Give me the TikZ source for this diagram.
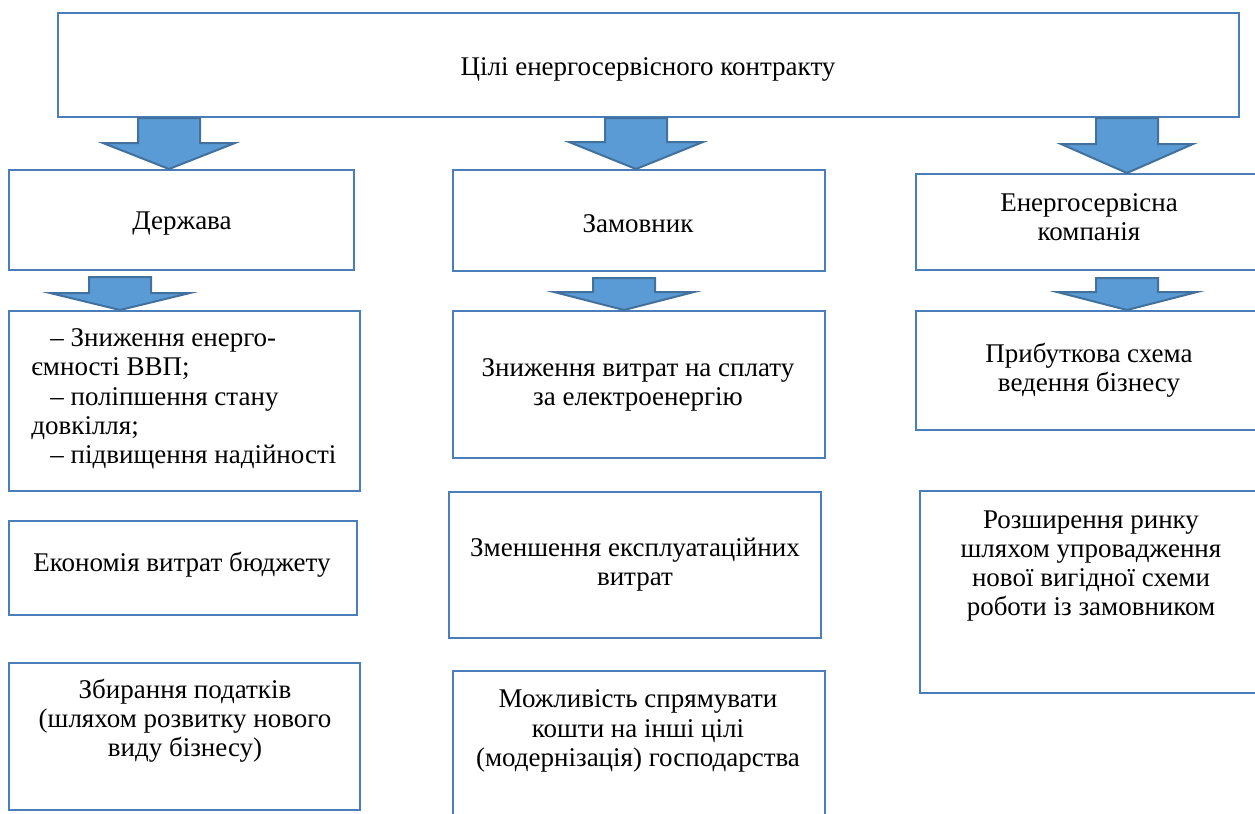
\documentclass[tikz,border=0pt]{standalone}
\usepackage{fontspec}
\setmainfont{Liberation Serif}
\usetikzlibrary{calc,fit}

\definecolor{boxline}{HTML}{4A7EBB}
\definecolor{arrline}{HTML}{41719C}
\definecolor{arrfill}{HTML}{5B9BD5}

\tikzset{
	box/.style={draw=boxline, line width=1pt, rectangle, inner sep=0pt},
	txt/.style={align=center, inner sep=0pt, font=\fontsize{13.5}{14.6}\selectfont},
	blockarr/.style={draw=arrline, fill=arrfill, line width=1pt, line join=miter}
}

% x, from, to, gap, head length, head half width
\newcommand{\blockarrow}[6]{%
	\draw[blockarr] ($(#1,0 |- #2.south)+(-31,#4)$) -- ($(#1,0 |- #2.south)+(31,#4)$)
		-- ($(#1,0 |- #3.north)+(31,-#5)$) -- ($(#1,0 |- #3.north)+(#6,-#5)$)
		-- (#1,0 |- #3.north) -- ($(#1,0 |- #3.north)+(-#6,-#5)$)
		-- ($(#1,0 |- #3.north)+(-31,-#5)$) -- cycle;}

\begin{document}
\begin{tikzpicture}[x=0.5pt, y=-0.5pt]
\useasboundingbox (0,0) rectangle (1255,814);

%Top
\node[box, fit={(58,13) (1239,117)}] (goal) {};

%Column 1
\node[box, fit={(9,170) (354,270)}] (state) {};
\node[box, fit={(9,311) (360,491)}] (state1) {};
\node[box, fit={(9,521) (357,615)}] (state2) {};
\node[box, fit={(9,663) (360,810)}] (state3) {};

%Column 2
\node[box, fit={(453,170) (825,271)}] (client) {};
\node[box, fit={(453,311) (825,458)}] (client1) {};
\node[box, fit={(449,492) (821,638)}] (client2) {};
\node[box, fit={(453,671) (825,840)}] (client3) {};

%Column 3
\node[box, fit={(916,174) (1262,270)}] (esco) {};
\node[box, fit={(916,311) (1262,430)}] (esco1) {};
\node[box, fit={(920,491) (1262,693)}] (esco2) {};

%Texts
\node[txt] (goal-t) at (648,69) {Цілі енергосервісного контракту};

\node[txt] (state-t) at (182,224) {Держава};
\node[txt, align=left, anchor=west] (state1-t) at (31,399)
	{\hspace*{9.5pt}– Зниження енерго-\\ємності ВВП;\\\hspace*{9.5pt}– поліпшення стану\\довкілля;\\\hspace*{9.5pt}– підвищення надійності};
\node[txt] (state2-t) at (182,565) {Економія витрат бюджету};
\node[txt] (state3-t) at (185,721) {Збирання податків\\(шляхом розвитку нового\\виду бізнесу)};

\node[txt] (client-t) at (638,224) {Замовник};
\node[txt] (client1-t) at (638,385) {Зниження витрат на сплату\\за електроенергію};
\node[txt] (client2-t) at (635,565) {Зменшення експлуатаційних\\витрат};
\node[txt] (client3-t) at (638,731) {Можливість спрямувати\\кошти на інші цілі\\(модернізація) господарства};

\node[txt] (esco-t) at (1089,217) {Енергосервісна\\компанія};
\node[txt] (esco1-t) at (1089,370) {Прибуткова схема\\ведення бізнесу};
\node[txt] (esco2-t) at (1091,566) {Розширення ринку\\шляхом упровадження\\нової вигідної схеми\\роботи із замовником};

%Arrows
\blockarrow{169}{goal}{state}{0}{26}{66}
\blockarrow{636}{goal}{client}{0}{27}{67}
\blockarrow{1127}{goal}{esco}{0}{29}{66}
\blockarrow{120}{state}{state1}{6}{17}{70}
\blockarrow{624}{client}{client1}{6}{18}{70}
\blockarrow{1127}{esco}{esco1}{7}{18}{70}

\end{tikzpicture}
\end{document}
